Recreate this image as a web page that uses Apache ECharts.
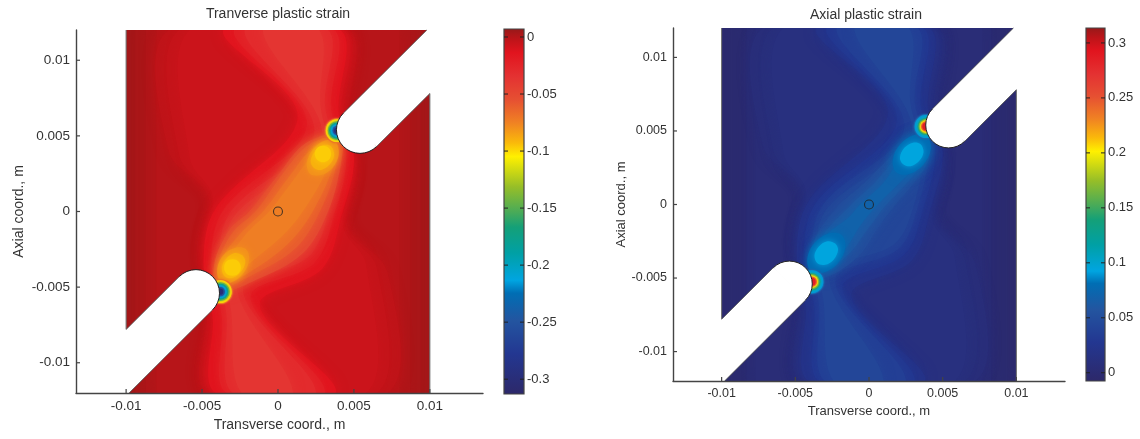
<!DOCTYPE html>
<html><head><meta charset="utf-8">
<script src="https://cdn.jsdelivr.net/npm/echarts@6/dist/echarts.min.js"></script>
<style>html,body{margin:0;background:#fff}#c{width:1140px;height:439px;filter:blur(.45px)}</style>
</head><body><div id="c"></div>
<script>
const xTicks=[-0.01,-0.005,0,0.005,0.01];
const yTicks=[-0.01,-0.005,0,0.005,0.01];
const leftBarTicks=[0,-0.05,-0.1,-0.15,-0.2,-0.25,-0.3];
const rightBarTicks=[0,0.05,0.1,0.15,0.2,0.25,0.3];
const leftRange=[-0.313,0.007];
const rightRange=[-0.0075,0.3136];
const colorStops=[[0,'#2d2869'],[.112,'#233791'],[.203,'#2355a0'],[.277,'#006eb4'],[.312,'#00a5e1'],[.386,'#00a0a5'],[.457,'#14a078'],[.496,'#46aa5a'],[.567,'#96be28'],[.65,'#fff000'],[.688,'#fab90a'],[.742,'#f08223'],[.805,'#e65032'],[.868,'#e43232'],[.934,'#e1141e'],[.97,'#be1419'],[1,'#961919']];

// contour levels and outlines, coordinates in millimetres
const leftLevels=[.004,.0025,.001,-.001,-.003,-.005,-.007,-.014,-.022,-.03,-.037,-.05,-.06,-.068,-.074,-.08,-.08,-.09,-.09,-.097,-.097];
const domainBox=[[-10,-12],[-10,12],[10,12],[10,-12]];
const box94=[[-9.4,-12],[-9.4,12],[9.4,12],[9.4,-12]];
const box87=[[-8.7,-12],[-8.7,12],[8.7,12],[8.7,-12]];
const box80=[[-8,-12],[-8,12],[8,12],[8,-12]];
const sWide=[[-7.2,12],[4.6,12],[4.6,6],[5,2.5],[4.6,-1],[7.2,-4],[7.2,-12],[-4.6,-12],[-4.6,-6],[-5,-2.5],[-4.6,1],[-7.2,4]];
const sMid=[[-6.5,12],[4.4,12],[4.3,6],[4.9,2.5],[4.4,-1],[6.5,-3.7],[6.5,-12],[-4.4,-12],[-4.3,-6],[-4.9,-2.5],[-4.4,1],[-6.5,3.7]];
const sNarrow=[[-5.8,12],[4.3,12],[4.1,6],[4.8,2.5],[4.3,-1],[5.8,-3.5],[5.8,-12],[-4.3,-12],[-4.1,-6],[-4.8,-2.5],[-4.3,1],[-5.8,3.5]];
const lensA=[[-3.6,12],[4.1,12],[4,6.5],[5,3.6],[4.2,-.2],[2.9,-3.8],[-1.2,-6.2],[3.8,-12],[-4.1,-12],[-4.3,-7],[-4.9,-3.2],[-4.1,.2],[1.3,6.3]];
const lensB=[[-2.9,12],[3.7,12],[3.5,6.8],[4.5,3.6],[3.7,-.2],[2.4,-3.4],[-1.8,-5.7],[3.1,-12],[-3.4,-12],[-3.7,-7],[-4.4,-3.2],[-3.6,.1],[1.9,5.8]];
const lensC=[[-2.2,12],[3.3,12],[3.1,7],[4,3.6],[3.3,-.2],[2,-3],[-2.3,-5.2],[2.5,-12],[-3,-12],[-3.4,-6.8],[-3.9,-3.2],[-3.1,0],[2.4,5.3]];
const lensD=[[-1,12],[2.7,12],[2.8,7],[3.6,3.4],[3,-.2],[1.7,-2.7],[-2.7,-4.8],[1,-12],[-2.4,-12],[-3.1,-6.5],[-3.6,-3],[-2.8,-.2],[2.9,4.9]];
const leftContours=[domainBox,box94,box87,box80,sWide,sMid,sNarrow,lensA,lensB,lensC,lensD,
[[4.1,5.1],[4.2,3.5],[3.3,0],[1.6,-2.8],[-1.6,-4.6],[-3.9,-5.3],[-4.2,-3.5],[-3.2,-1.2],[-1.9,0],[0,2.4],[1.8,4.5]],
[[3.9,4.9],[3.9,3.3],[2.9,.3],[1.2,-2.4],[-1.7,-4.2],[-3.8,-5],[-3.9,-3.3],[-3,-1.4],[-1.4,.1],[.3,2.5],[2,4.4]],
[[3.7,4.7],[3.7,3.2],[2.4,.2],[.8,-2],[-1.7,-3.9],[-3.7,-4.8],[-3.7,-3.2],[-2.6,-1.6],[-.9,.1],[.8,2.4],[2.3,4.2]],
[[3.4,4.5],[3.3,3],[1.9,.4],[.5,-1.4],[-1.6,-3.2],[-3.4,-4.6],[-3.4,-3.5],[-2.2,-1.6],[-.5,.1],[1.1,2.2],[2.5,4]],
[[3.8,4.6],[4,3.8],[3.6,2.9],[2.8,2.4],[2.1,2.5],[1.9,3.2],[2.3,4.1],[3.1,4.7]],
[[-3.8,-4.6],[-4,-3.8],[-3.6,-2.9],[-2.8,-2.4],[-2.1,-2.5],[-1.9,-3.2],[-2.3,-4.1],[-3.1,-4.7]],
[[3.5,4.3],[3.7,3.7],[3.4,3.1],[2.85,2.75],[2.35,2.9],[2.15,3.35],[2.45,4],[3,4.4]],
[[-3.5,-4.3],[-3.7,-3.7],[-3.4,-3.1],[-2.85,-2.75],[-2.35,-2.9],[-2.15,-3.35],[-2.45,-4],[-3,-4.4]],
[[3.5,3.8],[3.35,4.2],[2.96,4.35],[2.58,4.2],[2.42,3.8],[2.58,3.42],[2.96,3.25],[3.35,3.42]],
[[-3.55,-3.7],[-3.4,-4.1],[-3,-4.25],[-2.6,-4.1],[-2.45,-3.7],[-2.6,-3.3],[-3,-3.15],[-3.4,-3.3]]];
const leftRingRadii=[.82,.75,.62,.52,.42,.3,.19];
const leftRingValues=[-.06,-.1,-.14,-.175,-.21,-.25,-.3];
const leftTips=[[3.9,5.35],[-3.8,-5.3]];

const rightLevels=[-.003,-.001,.002,.005,.008,.01,.012,.02,.028,.036,.043,.05,.06,.07,.08,.08,.094,.094];
const rightContours=[domainBox,box94,[[-8.3,-12],[-8.3,12],[8.3,12],[8.3,-12]],[[-7.7,-12],[-7.7,12],[7.7,12],[7.7,-12]],sWide,sMid,sNarrow,lensA,lensB,lensC,lensD,
[[3.9,4.8],[4.1,3.2],[3,1.4],[1.8,0],[.6,-1.6],[-.8,-3.6],[-3.2,-5],[-3.9,-4],[-3.6,-2.2],[-2,0],[-.4,1.4],[1.2,3],[2.8,4.6]],
[[3.7,4.4],[3.8,3.3],[2.7,1.6],[1.1,-.1],[-.1,-1.7],[-1.4,-3.4],[-3.2,-4.6],[-3.7,-3.7],[-3.2,-2.2],[-1.2,0],[.4,1.5],[1.8,3.2],[3,4.6]],
[[3.5,4.2],[3.6,3.2],[2.6,2],[.6,0],[-.5,-1.3],[-1.6,-3],[-3.1,-4.4],[-3.5,-3.7],[-3,-2.2],[-1.4,-.9],[-.6,0],[1,1.5],[2,3],[3,4.3]],
[[3.94,4.62],[4.19,3.78],[3.7,2.72],[2.73,2.07],[1.86,2.18],[1.61,3.02],[2.1,4.08],[3.07,4.73]],
[[-3.94,-4.52],[-4.19,-3.68],[-3.7,-2.62],[-2.73,-1.97],[-1.86,-2.08],[-1.61,-2.92],[-2.1,-3.98],[-3.07,-4.63]],
[[3.5,4.1],[3.7,3.55],[3.4,2.95],[2.82,2.6],[2.3,2.75],[2.1,3.2],[2.4,3.85],[2.98,4.2]],
[[-3.5,-4],[-3.7,-3.45],[-3.4,-2.85],[-2.82,-2.5],[-2.3,-2.65],[-2.1,-3.1],[-2.4,-3.75],[-2.98,-4.1]]];
const rightRingRadii=[.85,.78,.68,.58,.5,.42,.34,.25];
const rightRingValues=[.06,.09,.1,.13,.16,.2,.24,.285];
const rightTips=[[3.88,5.3],[-3.88,-5.25]];

// slot outlines (white voids) in millimetres
const slotCentres=[[5.4,5.4],[-5.4,-5.4]];
const slotRadius=1.55;
const slotFills=[[[4.3,6.5],[9.8,12],[10.6,12],[10.6,8.4],[6.5,4.3],[6.2,4.5],[4.5,6.2]],[[-6.5,-4.3],[-10.6,-8.4],[-10.6,-12],[-9.8,-12],[-4.3,-6.5],[-4.5,-6.2],[-6.2,-4.5]]];
const slotEdges=[[[4.3,6.5],[9.8,12]],[[6.5,4.3],[10,7.8]],[[-6.5,-4.3],[-10,-7.8]],[[-4.3,-6.5],[-9.8,-12]]];
const sideEdges=[[[-10,-7.8],[-10,12]],[[10,7.8],[10,-12]]];
const origin=[[0,0]];
const MM=0.001;

function hex(c){return [1,3,5].map(i=>parseInt(c.substr(i,2),16));}
function colorOf(v,range){
  const f=Math.max(0,Math.min(1,(v-range[0])/(range[1]-range[0])));
  for(let i=1;i<colorStops.length;i++){
    if(f<=colorStops[i][0]){
      const a=colorStops[i-1],b=colorStops[i],t=(f-a[0])/(b[0]-a[0]);
      const A=hex(a[1]),B=hex(b[1]);
      return 'rgb('+A.map((x,k)=>Math.round(x+(B[k]-x)*t)).join(',')+')';
    }
  }
  return colorStops[colorStops.length-1][1];
}
const pt=(api,p)=>api.coord([p[0]*MM,p[1]*MM]);
function clipOf(api){
  const a=pt(api,[-10,12]),b=pt(api,[10,-12]);
  return {type:'rect',shape:{x:a[0],y:a[1],width:b[0]-a[0],height:b[1]-a[1]}};
}
function contourSeries(g,levels,contours,range){
  return {type:'custom',xAxisIndex:g,yAxisIndex:g,silent:true,animation:false,z:2,
    data:levels.map((v,i)=>[i,v]),
    renderItem(p,api){
      const i=api.value(0),v=api.value(1),col=colorOf(v,range);
      return {type:'group',clipPath:clipOf(api),children:[{type:'polygon',
        shape:{points:contours[i].map(q=>pt(api,q)),smooth:i<4?0:0.35},
        style:{fill:col,shadowBlur:i<1?0:(i>14?7:12),shadowColor:col}}]};
    }};
}
function ringSeries(g,radii,values,tips,range){
  const d=[];tips.forEach((t,k)=>radii.forEach((r,j)=>d.push([k,j])));
  return {type:'custom',xAxisIndex:g,yAxisIndex:g,silent:true,animation:false,z:3,data:d,
    renderItem(p,api){
      const t=tips[api.value(0)],j=api.value(1),c=pt(api,t);
      const r=api.size([radii[j]*MM,0])[0],col=colorOf(values[j],range);
      return {type:'circle',shape:{cx:c[0],cy:c[1],r},style:{fill:col,shadowBlur:2,shadowColor:col}};
    }};
}
function slotSeries(g){
  return {type:'custom',xAxisIndex:g,yAxisIndex:g,silent:true,animation:false,z:4,data:[[0],[1]],
    renderItem(p,api){
      const k=api.value(0),c=pt(api,slotCentres[k]);
      const r=api.size([slotRadius*MM,0])[0];
      const s=k===0?Math.PI/4:Math.PI*5/4;
      const kids=[{type:'polygon',shape:{points:slotFills[k].map(q=>pt(api,q))},style:{fill:'#fff'}},
        {type:'arc',shape:{cx:c[0],cy:c[1],r,startAngle:s,endAngle:s+Math.PI},style:{fill:'#fff',stroke:'#222',lineWidth:1}}];
      [k*2,k*2+1].forEach(e=>kids.push({type:'line',shape:{x1:pt(api,slotEdges[e][0])[0],y1:pt(api,slotEdges[e][0])[1],x2:pt(api,slotEdges[e][1])[0],y2:pt(api,slotEdges[e][1])[1]},style:{stroke:'#444',lineWidth:.8}}));
      const se=sideEdges[k];
      kids.push({type:'line',shape:{x1:pt(api,se[0])[0],y1:pt(api,se[0])[1],x2:pt(api,se[1])[0],y2:pt(api,se[1])[1]},style:{stroke:'#666',lineWidth:1}});
      return {type:'group',children:kids};
    }};
}
function tickSeries(g,xs,ys){
  const d=xs.map(v=>[0,v]).concat(ys.map(v=>[1,v]));
  return {type:'custom',xAxisIndex:g,yAxisIndex:g,silent:true,animation:false,z:7,data:d,
    renderItem(p,api){
      const isY=api.value(0)===1,v=api.value(1);
      const cs=p.coordSys;
      if(isY){const y=api.coord([0,v])[1];return {type:'line',shape:{x1:cs.x,y1:y,x2:cs.x+4,y2:y},style:{stroke:'#444',lineWidth:1.2}};}
      const x=api.coord([v,0])[0],b=cs.y+cs.height;
      return {type:'line',shape:{x1:x,y1:b,x2:x,y2:b-4},style:{stroke:'#444',lineWidth:1.2}};
    }};
}
function barSeries(g,range,ticks){
  const d=[[range[0],1]].concat(ticks.map(t=>[t,0]));
  return {type:'custom',xAxisIndex:g,yAxisIndex:g,silent:true,animation:false,z:2,data:d,
    renderItem(p,api){
      const v=api.value(0);
      if(api.value(1)===1){
        const a=api.coord([0,range[1]]),b=api.coord([1,range[0]]);
        return {type:'rect',shape:{x:a[0],y:a[1],width:b[0]-a[0],height:b[1]-a[1]},
          style:{fill:{type:'linear',x:0,y:1,x2:0,y2:0,colorStops:colorStops.map(s=>({offset:s[0],color:s[1]}))},stroke:'#444',lineWidth:1.2}};
      }
      const y=api.coord([0,v])[1],l=api.coord([0,v])[0],r=api.coord([1,v])[0];
      return {type:'group',children:[
        {type:'line',shape:{x1:l,y1:y,x2:l+4,y2:y},style:{stroke:'#222',lineWidth:1}},
        {type:'line',shape:{x1:r,y1:y,x2:r-4,y2:y},style:{stroke:'#222',lineWidth:1}}]};
    }};
}
const ink='#333';
function mainX(g,min,max,fs,gap,nfs){return {gridIndex:g,type:'value',min,max,z:6,name:'Transverse coord., m',nameLocation:'middle',nameGap:gap,
  nameTextStyle:{color:ink,fontSize:nfs,fontFamily:'Liberation Sans'},splitLine:{show:false},
  axisLine:{onZero:false,lineStyle:{color:'#444',width:1.4}},axisTick:{show:false},
  axisLabel:{customValues:xTicks,color:ink,fontSize:fs,fontFamily:'Liberation Sans',margin:6,formatter:v=>String(v)}};}
function mainY(g,fs,gap,nfs){return {gridIndex:g,type:'value',min:-0.012,max:0.012,z:6,name:'Axial coord., m',nameLocation:'middle',nameGap:gap,
  nameTextStyle:{color:ink,fontSize:nfs,fontFamily:'Liberation Sans'},splitLine:{show:false},
  axisLine:{onZero:false,lineStyle:{color:'#444',width:1.4}},axisTick:{show:false},
  axisLabel:{customValues:yTicks,color:ink,fontSize:fs,fontFamily:'Liberation Sans',margin:6,formatter:v=>String(v)}};}
function barX(g){return {gridIndex:g,type:'value',min:0,max:1,show:false};}
function barY(g,range,ticks){return {gridIndex:g,type:'value',position:'right',min:range[0],max:range[1],z:6,splitLine:{show:false},
  axisLine:{show:false},axisTick:{show:false},
  axisLabel:{customValues:ticks,color:ink,fontSize:13,fontFamily:'Liberation Sans',margin:3,formatter:v=>String(v)}};}
const originStyle={color:'transparent',borderColor:'#222',borderWidth:1.1};
const titleStyle={fontSize:14,fontWeight:'normal',color:ink,fontFamily:'Liberation Sans'};

const chart=echarts.init(document.getElementById('c'),null,{renderer:'canvas'});
chart.setOption({animation:false,backgroundColor:'#fff',
  title:[
    {text:'Tranverse plastic strain',left:273,top:2,textAlign:'center',textStyle:titleStyle},
    {text:'Axial plastic strain',left:861,top:3,textAlign:'center',textStyle:titleStyle}],
  grid:[{left:76,top:30,width:407,height:363},{left:673,top:28,width:392,height:353},
        {left:504,top:29,width:20,height:365},{left:1086,top:28,width:19,height:353}],
  xAxis:[mainX(0,-0.0133,0.0135,13.5,24,14),mainX(1,-0.0133,0.0133,12.5,23,13),barX(2),barX(3)],
  yAxis:[mainY(0,13.5,50,14),mainY(1,12.5,45,13),barY(2,leftRange,leftBarTicks),barY(3,rightRange,rightBarTicks)],
  series:[
    contourSeries(0,leftLevels,leftContours,leftRange),ringSeries(0,leftRingRadii,leftRingValues,leftTips,leftRange),slotSeries(0),
    contourSeries(1,rightLevels,rightContours,rightRange),ringSeries(1,rightRingRadii,rightRingValues,rightTips,rightRange),slotSeries(1),
    barSeries(2,leftRange,leftBarTicks),barSeries(3,rightRange,rightBarTicks),
    tickSeries(0,xTicks,yTicks),tickSeries(1,xTicks,yTicks),
    {type:'scatter',xAxisIndex:0,yAxisIndex:0,data:origin,symbolSize:9,itemStyle:originStyle,z:5,silent:true},
    {type:'scatter',xAxisIndex:1,yAxisIndex:1,data:origin,symbolSize:9,itemStyle:originStyle,z:5,silent:true}
  ]});
</script></body></html>
